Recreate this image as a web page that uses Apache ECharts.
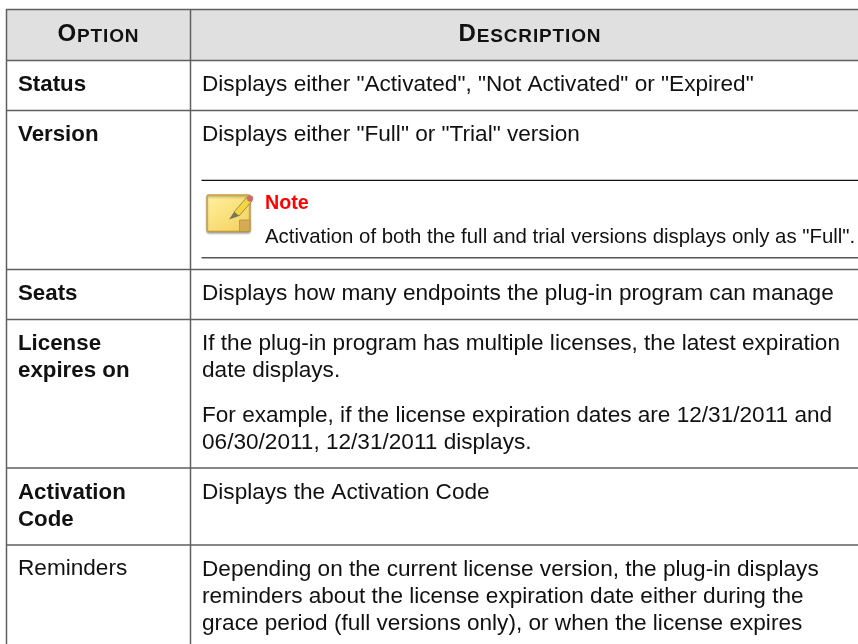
<!DOCTYPE html>
<html><head><meta charset="utf-8">
<style>html,body{margin:0;padding:0;background:#fff}#c{width:858px;height:644px}</style>
<script src="https://cdn.jsdelivr.net/npm/echarts@6/dist/echarts.min.js"></script></head>
<body><div id="c"></div>
<script>
const headers = ['Option', 'Description'];
const options = [['Status'], ['Version'], ['Seats'], ['License', 'expires on'], ['Activation', 'Code'], ['Reminders']];
const optionBold = [true, true, true, true, true, false];
const description1 = ['Displays either "Activated", "Not Activated" or "Expired"'];
const description2 = ['Displays either "Full" or "Trial" version'];
const noteTitle = 'Note';
const noteText = 'Activation of both the full and trial versions displays only as "Full".';
const description3 = ['Displays how many endpoints the plug-in program can manage'];
const description4a = ['If the plug-in program has multiple licenses, the latest expiration', 'date displays.'];
const description4b = ['For example, if the license expiration dates are 12/31/2011 and', '06/30/2011, 12/31/2011 displays.'];
const description5 = ['Displays the Activation Code'];
const description6 = ['Depending on the current license version, the plug-in displays', 'reminders about the license expiration date either during the', 'grace period (full versions only), or when the license expires'];

const FONT = '"Liberation Sans", Arial, sans-serif';
const els = [];
const LINE = '#5f5f5f';
function hline(y, x1, x2, color, w) {
  els.push({type:'line', shape:{x1, y1:y, x2, y2:y}, style:{stroke:color||LINE, lineWidth:w||1.5}, silent:true});
}
function vline(x, y1, y2) {
  els.push({type:'line', shape:{x1:x, y1, x2:x, y2}, style:{stroke:LINE, lineWidth:1.5}, silent:true});
}
function text(str, x, y, size, weight, color) {
  els.push({type:'text', x, y, silent:true, style:{text:str, fontFamily:FONT, fontSize:size, fontWeight:weight||'normal', fill:color||'#111', textVerticalAlign:'middle', textBaseline:'middle'}});
}
function lines(arr, x, y, size, weight, step) {
  arr.forEach((s, i) => text(s, x, y + i * step, size, weight));
}
const SZ_H1 = 24, SZ_H2 = 19, SPACING = 0.85, SZ = 22.6, SZB = 22.3, SZN = 20.4;
const measure = document.createElement('canvas').getContext('2d');
function widthOf(ch, size) {
  measure.font = 'bold ' + size + 'px ' + FONT;
  return measure.measureText(ch).width;
}
function smallCaps(str, cx, baseline) {
  const glyphs = [...str].map((c, i) => ({c: i ? c.toUpperCase() : c, size: i ? SZ_H2 : SZ_H1}));
  const total = glyphs.reduce((s, g) => s + widthOf(g.c, g.size) + SPACING, -SPACING);
  let x = cx - total / 2;
  glyphs.forEach(g => {
    text(g.c, x, baseline - 0.3465 * g.size, g.size, 'bold', '#111');
    x += widthOf(g.c, g.size) + SPACING;
  });
}
// header band
els.push({type:'rect', shape:{x:6.5, y:9.5, width:852, height:51}, style:{fill:'#e0e0e0'}, silent:true});
const rowY = [60.5, 110.5, 269.5, 319.5, 468, 545];
hline(9.5, 6, 858);
rowY.forEach(y => hline(y, 6, 858));
vline(6.5, 9, 644);
vline(190.5, 9, 644);
smallCaps(headers[0], 98, 43);
smallCaps(headers[1], 529.5, 43);
const TX = 18, DX = 202, STEP = 27;
const optY = [85, 135, 294, 344, 493, 569];
options.forEach((o, i) => lines(o, TX, optY[i], o[0]==='Reminders' ? SZ : SZB, optionBold[i] ? 'bold' : 'normal', STEP));
lines(description1, DX, 84.5, SZ, 'normal', STEP);
lines(description2, DX, 135, SZ, 'normal', STEP);
lines(description3, DX, 294, SZ, 'normal', STEP);
lines(description4a, DX, 344, SZ, 'normal', STEP);
lines(description4b, DX, 416, SZ, 'normal', STEP);
lines(description5, DX, 493, SZ, 'normal', STEP);
lines(description6, DX, 569.5, SZ, 'normal', STEP);
// note block
hline(180.3, 201.5, 858, '#111', 1.2);
hline(257.8, 201.5, 858, '#555', 1.5);
text(noteTitle, 265, 203.5, 19.7, 'bold', '#ff0000');
text(noteText, 265, 237.5, SZN, 'normal', '#111');
// note icon
els.push({type:'rect', silent:true, shape:{x:207, y:195, width:43, height:36.5, r:1.5},
  style:{fill:{type:'linear',x:0,y:0,x2:0.6,y2:1,colorStops:[{offset:0,color:'#fff2a0'},{offset:1,color:'#f6d568'}]}, stroke:'#c39a40', lineWidth:1.3, shadowBlur:2, shadowColor:'rgba(0,0,0,.3)', shadowOffsetY:1.5}});
els.push({type:'polygon', silent:true, shape:{points:[[250,220],[239.5,220],[239.5,231.5],[250,231.5]]}, style:{fill:'#d4ab54', stroke:'#b58f3c', lineWidth:.8}});
els.push({type:'polygon', silent:true, shape:{points:[[234,212],[247,197],[252,201],[239,216]]}, style:{fill:'#f6d63e', stroke:'#807850', lineWidth:.8}});
els.push({type:'polygon', silent:true, shape:{points:[[234,212],[239,216],[229,219.5]]}, style:{fill:'#77745a'}});
els.push({type:'circle', silent:true, shape:{cx:250, cy:198.5, r:3}, style:{fill:'#d9655f', stroke:'#a88', lineWidth:.6}});
const chart = echarts.init(document.getElementById('c'), null, {renderer:'canvas'});
chart.setOption({animation:false, backgroundColor:'#fff', graphic:{elements:els}});
</script></body></html>
